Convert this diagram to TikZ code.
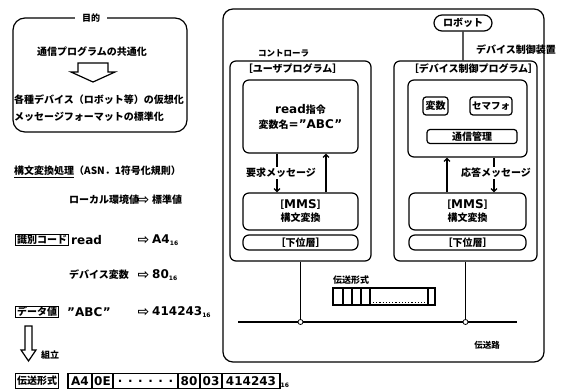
\documentclass[tikz,border=0pt]{standalone}
\usepackage{fontspec}
\setmainfont{Noto Sans CJK JP}
\newfontfamily\latinfont{DejaVu Sans}
\newfontfamily\symfont{DejaVu Sans}
\usetikzlibrary{arrows.meta, positioning, shapes.misc, calc}
\newcommand{\ltn}[1]{{\latinfont\fontsize{12}{13}\selectfont #1}}
\newcommand{\hex}{\raisebox{-1.5pt}{\latinfont\fontsize{6}{6}\selectfont 16}}
\tikzset{
  rframe/.style={rectangle, draw, line width=1.2pt, rounded corners=#1, inner sep=0pt},
  rbox/.style={rectangle, draw, line width=1.2pt, rounded corners=6pt,
               inner sep=0pt, align=center},
  tagbox/.style={rectangle, draw, line width=1.2pt, inner xsep=1.5pt, inner ysep=1pt},
  plain/.style={inner sep=1pt},
  cellbox/.style={rectangle, draw, line width=1.2pt, inner sep=0pt, outer sep=0pt,
                  minimum height=15pt},
  msglbl/.style={inner sep=1pt},
  harrow/.style={inner sep=0pt, font=\symfont\fontsize{14}{14}\selectfont},
  thinline/.style={line width=1.2pt},
  arr/.style={line width=1.2pt, -{Straight Barb[length=3pt, width=6pt]}},
  blockarr/.style={line width=1.2pt, line join=miter},
  jdot/.style={circle, draw, line width=0.8pt, inner sep=0pt, minimum size=5pt}
}
\begin{document}
\bfseries
\begin{tikzpicture}[x=1pt, y=-1pt]
  \useasboundingbox (0,0) rectangle (563,391);

  % purpose
  \node[rframe=12pt, minimum width=174pt, minimum height=114pt] (goal) at (100,75) {};
  \node[plain, fill=white, inner xsep=7pt, font=\fontsize{9}{10}\selectfont] (goaltitle) at (91,18) {目的};
  \node[plain] (common) at (92,52) {通信プログラムの共通化};
  \coordinate (ga) at (93,63);
  \draw[blockarr] (ga) ++(-15,0) -- ++(30,0) -- ++(0,9) -- ++(7,0) -- ++(-22,10)
    -- ++(-22,-10) -- ++(7,0) -- cycle;
  \node[plain, anchor=west] (virt) at (13,100) {各種デバイス（ロボット等）の仮想化};
  \node[plain, anchor=west] (stdfmt) at (13,117) {メッセージフォーマットの標準化};

  % syntax conversion
  \node[plain, anchor=west] (conv) at (13,172) {\underline{構文変換処理}（ASN．1符号化規則）};
  \node[plain, anchor=west] (local) at (68,200) {ローカル環境値};
  \node[harrow] (a0) at (143.5,200) {⇨};
  \node[plain, anchor=west] (stdval) at (151,200) {標準値};

  \node[tagbox, anchor=west] (idcode) at (15,240) {識別コード};
  \node[plain, anchor=west] (readv) at (70,240) {\ltn{read}};
  \node[harrow] (a1) at (143.5,240) {⇨};
  \node[plain, anchor=west] (readhex) at (151,240) {\ltn{A4\hex}};

  \node[plain, anchor=west] (devvar) at (68,275) {デバイス変数};
  \node[harrow] (a2) at (143.5,275) {⇨};
  \node[plain, anchor=west] (varhex) at (151,275) {\ltn{80\hex}};

  \node[tagbox, anchor=west] (dataval) at (15,312) {データ値};
  \node[plain, anchor=west] (abc) at (66,312) {\ltn{”ABC”}};
  \node[harrow] (a3) at (143.5,312) {⇨};
  \node[plain, anchor=west] (abchex) at (151,312) {\ltn{414243\hex}};

  % assembly
  \coordinate (asm) at (28.5,326);
  \draw[blockarr] (asm) ++(-3.5,0) -- ++(7,0) -- ++(0,24) -- ++(4,0) -- ++(-7.5,11)
    -- ++(-7.5,-11) -- ++(4,0) -- cycle;
  \node[plain, anchor=west, font=\fontsize{9}{10}\selectfont] (asmlbl) at (40,355) {組立};

  % transfer format
  \node[tagbox, anchor=west, minimum height=15pt] (fmt) at (15,381) {伝送形式};
  \node[cellbox, minimum width=24pt, anchor=west] (c1) at (68,381) {\ltn{A4}};
  \node[cellbox, minimum width=21pt, right=0pt of c1] (c2) {\ltn{0E}};
  \node[cellbox, minimum width=65pt, right=0pt of c2] (c3) {\ltn{. . . . . .}};
  \node[cellbox, minimum width=22pt, right=0pt of c3] (c4) {\ltn{80}};
  \node[cellbox, minimum width=22pt, right=0pt of c4] (c5) {\ltn{03}};
  \node[cellbox, minimum width=58pt, right=0pt of c5] (c6) {\ltn{414243}};
  \node[inner sep=0.5pt, anchor=south west, font=\latinfont\fontsize{6}{6}\selectfont]
    (c6sub) at (c6.south east) {16};

  % system
  \node[rframe=10pt, minimum width=321pt, minimum height=353pt] (sys) at (383.5,185.5) {};
  \node[rounded rectangle, draw, line width=1.2pt, fill=white, minimum width=60pt,
        minimum height=16pt, inner sep=1pt] (robot) at (463,23) {ロボット};
  \node[rframe=6pt, minimum width=141pt, minimum height=200pt] (ctrl) at (300.5,161) {};
  \node[rframe=6pt, minimum width=143pt, minimum height=200pt] (dev) at (465.5,161) {};
  \node[plain, above=2pt of ctrl.north, xshift=-17pt, font=\fontsize{8.5}{10}\selectfont] (ctrllbl) {コントローラ};
  \node[plain, anchor=east] (devlbl) at (557,50) {デバイス制御装置};
  \draw[thinline] (robot) -- (robot |- dev.north);

  \node[plain, below=2pt of ctrl.north, xshift=-8pt] (ctrlhdr) {［ユーザプログラム］};
  \node[plain, below=2pt of dev.north, xshift=8pt] (devhdr) {［デバイス制御プログラム］};

  \node[rbox, minimum width=115pt, minimum height=73pt] (userprog) at (300.5,116.5)
    {\ltn{read}指令\\[3pt]変数名\ltn{=”ABC”}};
  \node[rbox, minimum width=119pt, minimum height=77pt] (devprog) at (467.5,118.5) {};
  \node[rbox, rounded corners=3pt, minimum width=25pt, minimum height=18pt] (var) at (435.5,106) {変数};
  \node[rbox, rounded corners=3pt, minimum width=42pt, minimum height=18pt,
        font=\fontsize{9.5}{10}\selectfont] (sem) at (491,106) {セマフォ};
  \node[rbox, rounded corners=3pt, minimum width=90pt, minimum height=14pt] (comm) at (472,136.5) {通信管理};

  \node[rbox, minimum width=115pt, minimum height=37pt] (mmsl) at (300.5,211.5)
    {［\ltn{MMS}］\\[1pt]構文変換};
  \node[rbox, minimum width=117pt, minimum height=37pt] (mmsr) at (467.5,211.5)
    {［\ltn{MMS}］\\[1pt]構文変換};
  \node[rbox, minimum width=115pt, minimum height=15pt] (lowl) at (300.5,242.5) {［下位層］};
  \node[rbox, minimum width=117pt, minimum height=15pt] (lowr) at (467.5,242.5) {［下位層］};

  % messages
  \coordinate (reqx) at (277,0);
  \coordinate (upl) at (326,0);
  \coordinate (upr) at (447,0);
  \coordinate (respx) at (494,0);
  \node[msglbl] (req) at (281,173) {要求メッセージ};
  \draw[thinline] (userprog.south -| reqx) -- (req.north -| reqx);
  \draw[arr] (req.south -| reqx) -- (mmsl.north -| reqx);
  \draw[arr] (mmsl.north -| upl) -- (userprog.south -| upl);
  \node[msglbl] (resp) at (496,173) {応答メッセージ};
  \draw[thinline] (devprog.south -| respx) -- (resp.north -| respx);
  \draw[arr] (resp.south -| respx) -- (mmsr.north -| respx);
  \draw[arr] (mmsr.north -| upr) -- (devprog.south -| upr);

  % bus
  \coordinate (busl) at (238,322);
  \coordinate (busr) at (517,322);
  \node[jdot] (jl) at (ctrl.south |- busl) {};
  \node[jdot] (jr) at (dev.south |- busl) {};
  \draw[thinline] (busl) -- (jl) -- (jr) -- (busr);
  \draw[thinline] (ctrl.south) -- (jl);
  \draw[thinline] (dev.south) -- (jr);
  \node[plain, font=\fontsize{8.5}{10}\selectfont] (buslbl) at (487,345) {伝送路};

  % frame on the line
  \node[plain, font=\fontsize{9}{10}\selectfont] (pklbl) at (351,280) {伝送形式};
  \node[cellbox, minimum width=10pt, minimum height=17pt, anchor=west] (p1) at (333,296.5) {};
  \node[cellbox, minimum width=9pt, minimum height=17pt, right=0pt of p1] (p2) {};
  \node[cellbox, minimum width=9pt, minimum height=17pt, right=0pt of p2] (p3) {};
  \node[cellbox, minimum width=9pt, minimum height=17pt, right=0pt of p3] (p4) {};
  \node[cellbox, minimum width=58pt, minimum height=17pt, right=0pt of p4] (p5) {};
  \node[cellbox, minimum width=7pt, minimum height=17pt, right=0pt of p5] (p6) {};
  \draw[thinline, dotted] ($(p5.south west)+(3,-2.5)$) -- ($(p5.south east)+(-3,-2.5)$);
\end{tikzpicture}
\end{document}
